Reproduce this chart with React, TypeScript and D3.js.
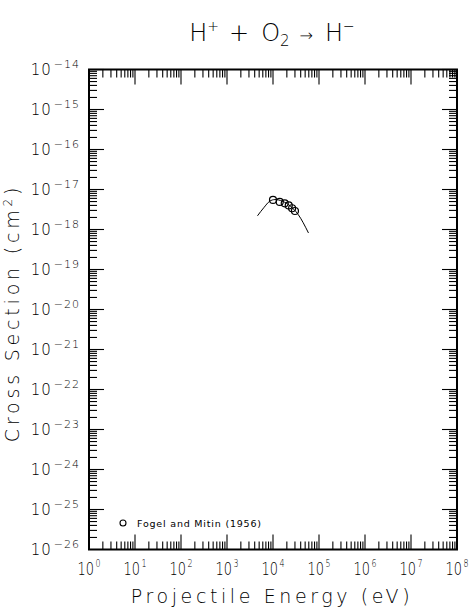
import { useEffect, useRef } from "react";
import * as d3 from "d3";

// measured points, Fogel and Mitin (1956)
const energies = [1.0e4, 1.4e4, 1.8e4, 2.2e4, 2.6e4, 3.0e4];
const sigmas = [5.5e-18, 4.9e-18, 4.5e-18, 4.0e-18, 3.4e-18, 2.9e-18];

// recommended fit curve
const fitEnergies = [4.6e3, 6.3e3, 8.5e3, 1.1e4, 1.6e4, 2.35e4, 3.5e4, 5.9e4];
const fitSigmas = [2.2e-18, 3.5e-18, 5.1e-18, 5.6e-18, 5.1e-18, 3.9e-18, 2.4e-18, 8.2e-19];

const xExps = [0, 1, 2, 3, 4, 5, 6, 7, 8];
const yExps = [-14, -15, -16, -17, -18, -19, -20, -21, -22, -23, -24, -25, -26];
const legendLabel = "Fogel and Mitin (1956)";

const FONT = "'DejaVu Sans', sans-serif";

const App = () => {
  const svgRef = useRef<SVGSVGElement>(null);

  useEffect(() => {
    const svg = d3.select(svgRef.current);
    svg.selectAll("*").remove();

    const left = 89, right = 457, top = 69.5, bottom = 549.5;

    const x = d3.scaleLog().domain([1, 1e8]).range([left, right]);
    const y = d3.scaleLog().domain([1e-14, 1e-26]).range([top, bottom]);

    const major = 15, minor = 8;
    const isMajor = (v: number) => Math.abs(Math.log10(v) - Math.round(Math.log10(v))) < 1e-6;

    const g = svg.append("g");

    // ticks
    const xt = x.ticks(50);
    const yt = y.ticks(50);
    const tickG = g.append("g").attr("stroke", "#000").attr("stroke-width", 1.1);
    xt.forEach((v) => {
      const len = isMajor(v) ? major : minor;
      tickG.append("line").attr("x1", x(v)).attr("x2", x(v)).attr("y1", bottom).attr("y2", bottom - len);
      tickG.append("line").attr("x1", x(v)).attr("x2", x(v)).attr("y1", top).attr("y2", top + len);
    });
    yt.forEach((v) => {
      const len = isMajor(v) ? major : minor;
      tickG.append("line").attr("x1", left).attr("x2", left + len).attr("y1", y(v)).attr("y2", y(v));
      tickG.append("line").attr("x1", right).attr("x2", right - len).attr("y1", y(v)).attr("y2", y(v));
    });

    // frame
    g.append("rect")
      .attr("x", left).attr("y", top)
      .attr("width", right - left).attr("height", bottom - top)
      .attr("fill", "none").attr("stroke", "#000").attr("stroke-width", 2);

    // x tick labels, horizontally squeezed like the narrow plotter font
    xExps.forEach((e) => {
      const t = g.append("g")
        .attr("transform", `translate(${x(Math.pow(10, e))},575) scale(0.72,1)`)
        .append("text")
        .attr("text-anchor", "middle")
        .attr("font-family", FONT)
        .attr("font-weight", 200)
        .attr("font-size", 18);
      t.append("tspan").text("10");
      t.append("tspan").attr("dy", -8).attr("dx", 2).attr("font-size", 11).text(String(e));
    });

    // y tick labels
    yExps.forEach((e) => {
      const t = g.append("text")
        .attr("x", 80)
        .attr("y", y(Math.pow(10, e)) + 5)
        .attr("text-anchor", "end")
        .attr("font-family", FONT)
        .attr("font-weight", 200)
        .attr("font-size", 15)
        .attr("letter-spacing", 1);
      t.append("tspan").text("10");
      t.append("tspan").attr("dy", -7).attr("dx", 2).attr("font-size", 11).text("\u2212" + String(-e));
    });

    // axis titles
    svg.append("text")
      .attr("x", 272).attr("y", 603)
      .attr("text-anchor", "middle")
      .attr("font-family", FONT).attr("font-weight", 200)
      .attr("font-size", 19).attr("letter-spacing", 3.6)
      .text("Projectile Energy (eV)");

    const yt2 = svg.append("text")
      .attr("transform", "translate(19,313) rotate(-90)")
      .attr("text-anchor", "middle")
      .attr("font-family", FONT).attr("font-weight", 200)
      .attr("font-size", 19).attr("letter-spacing", 3.8);
    yt2.append("tspan").text("Cross Section (cm");
    yt2.append("tspan").attr("dy", -7).attr("font-size", 12).text("2");
    yt2.append("tspan").attr("dy", 7).text(")");

    // title
    const title = svg.append("text")
      .attr("x", 272).attr("y", 41)
      .attr("text-anchor", "middle")
      .attr("font-family", FONT).attr("font-weight", 200)
      .attr("font-size", 24).attr("letter-spacing", 0);
    title.append("tspan").text("H");
    title.append("tspan").attr("dy", -10).attr("font-size", 14).text("+");
    title.append("tspan").attr("dy", 10).attr("dx", 10).text("+");
    title.append("tspan").attr("dx", 12).text("O");
    title.append("tspan").attr("dy", 5).attr("font-size", 15).text("2");
    title.append("tspan").attr("dy", -5).attr("dx", 10).attr("font-size", 16).text("\u2192");
    title.append("tspan").attr("dx", 12).text("H");
    title.append("tspan").attr("dy", -10).attr("font-size", 14).text("\u2212");

    // fit curve
    const fit = fitEnergies.map((e, i) => [e, fitSigmas[i]] as [number, number]);
    const line = d3.line<[number, number]>()
      .x((d) => x(d[0]))
      .y((d) => y(d[1]))
      .curve(d3.curveMonotoneX);
    g.append("path")
      .datum(fit)
      .attr("fill", "none")
      .attr("stroke", "#000")
      .attr("stroke-width", 1)
      .attr("d", line);

    // data points
    g.selectAll(".pt")
      .data(energies.map((e, i) => [e, sigmas[i]]))
      .enter()
      .append("circle")
      .attr("cx", (d) => x(d[0]))
      .attr("cy", (d) => y(d[1]))
      .attr("r", 3.5)
      .attr("fill", "none")
      .attr("stroke", "#000")
      .attr("stroke-width", 1.2);

    // legend
    g.append("circle").attr("cx", 123).attr("cy", 523).attr("r", 3)
      .attr("fill", "none").attr("stroke", "#000").attr("stroke-width", 1.1);
    g.append("text")
      .attr("x", 137).attr("y", 527)
      .attr("font-family", FONT).attr("font-size", 9.5)
      .attr("letter-spacing", 0.8)
      .text(legendLabel);
  }, []);

  return (
    <svg
      ref={svgRef}
      width={470}
      height={610}
      style={{ position: "absolute", left: 0, top: 0, background: "#fff", display: "block" }}
    />
  );
};

export default App;
